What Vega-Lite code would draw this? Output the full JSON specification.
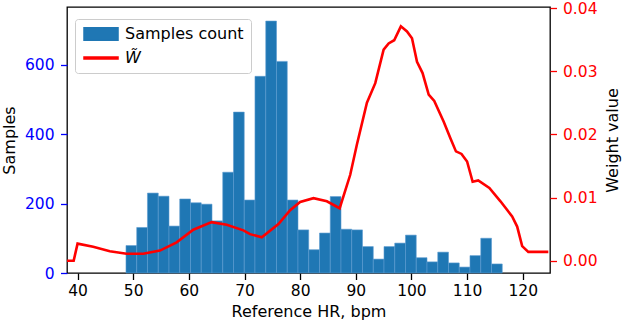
{
  "$schema": "https://vega.github.io/schema/vega-lite/v6.json",
  "width": 483,
  "height": 266,
  "autosize": "none",
  "padding": {"left": 67, "top": 7, "right": 72, "bottom": 51},
  "config": {
    "font": "DejaVu Sans",
    "view": {"stroke": "black", "strokeWidth": 1.3},
    "axis": {
      "labelFont": "DejaVu Sans",
      "titleFont": "DejaVu Sans",
      "labelFontSize": 15.5,
      "titleFontSize": 16,
      "titleFontWeight": "normal",
      "titleColor": "black",
      "labelColor": "black",
      "grid": false,
      "domain": false,
      "tickSize": 6.5,
      "tickWidth": 1.3,
      "tickColor": "black",
      "labelPadding": 3.5
    }
  },
  "resolve": {"scale": {"y": "independent"}},
  "layer": [
    {
      "data": {
        "values": [
          {"hr": 48.70, "hr_end": 50.63, "count": 79, "series": "Samples count"},
          {"hr": 50.63, "hr_end": 52.56, "count": 131, "series": "Samples count"},
          {"hr": 52.56, "hr_end": 54.50, "count": 230, "series": "Samples count"},
          {"hr": 54.50, "hr_end": 56.43, "count": 221, "series": "Samples count"},
          {"hr": 56.43, "hr_end": 58.36, "count": 135, "series": "Samples count"},
          {"hr": 58.36, "hr_end": 60.29, "count": 213, "series": "Samples count"},
          {"hr": 60.29, "hr_end": 62.22, "count": 202, "series": "Samples count"},
          {"hr": 62.22, "hr_end": 64.16, "count": 198, "series": "Samples count"},
          {"hr": 64.16, "hr_end": 66.09, "count": 150, "series": "Samples count"},
          {"hr": 66.09, "hr_end": 68.02, "count": 290, "series": "Samples count"},
          {"hr": 68.02, "hr_end": 69.95, "count": 463, "series": "Samples count"},
          {"hr": 69.95, "hr_end": 71.88, "count": 210, "series": "Samples count"},
          {"hr": 71.88, "hr_end": 73.82, "count": 566, "series": "Samples count"},
          {"hr": 73.82, "hr_end": 75.75, "count": 725, "series": "Samples count"},
          {"hr": 75.75, "hr_end": 77.68, "count": 609, "series": "Samples count"},
          {"hr": 77.68, "hr_end": 79.61, "count": 210, "series": "Samples count"},
          {"hr": 79.61, "hr_end": 81.54, "count": 124, "series": "Samples count"},
          {"hr": 81.54, "hr_end": 83.48, "count": 67, "series": "Samples count"},
          {"hr": 83.48, "hr_end": 85.41, "count": 115, "series": "Samples count"},
          {"hr": 85.41, "hr_end": 87.34, "count": 220, "series": "Samples count"},
          {"hr": 87.34, "hr_end": 89.27, "count": 126, "series": "Samples count"},
          {"hr": 89.27, "hr_end": 91.20, "count": 124, "series": "Samples count"},
          {"hr": 91.20, "hr_end": 93.14, "count": 76, "series": "Samples count"},
          {"hr": 93.14, "hr_end": 95.07, "count": 40, "series": "Samples count"},
          {"hr": 95.07, "hr_end": 97.00, "count": 76, "series": "Samples count"},
          {"hr": 97.00, "hr_end": 98.93, "count": 86, "series": "Samples count"},
          {"hr": 98.93, "hr_end": 100.86, "count": 109, "series": "Samples count"},
          {"hr": 100.86, "hr_end": 102.80, "count": 44, "series": "Samples count"},
          {"hr": 102.80, "hr_end": 104.73, "count": 32, "series": "Samples count"},
          {"hr": 104.73, "hr_end": 106.66, "count": 60, "series": "Samples count"},
          {"hr": 106.66, "hr_end": 108.59, "count": 29, "series": "Samples count"},
          {"hr": 108.59, "hr_end": 110.52, "count": 17, "series": "Samples count"},
          {"hr": 110.52, "hr_end": 112.46, "count": 50, "series": "Samples count"},
          {"hr": 112.46, "hr_end": 114.39, "count": 100, "series": "Samples count"},
          {"hr": 114.39, "hr_end": 116.32, "count": 26, "series": "Samples count"}
        ]
      },
      "mark": {"type": "rect", "stroke": "#5b9bd0", "strokeWidth": 0.6},
      "encoding": {
        "x": {
          "field": "hr",
          "type": "quantitative",
          "scale": {"domain": [38.1, 124.9], "nice": false, "zero": false},
          "axis": {"values": [40, 50, 60, 70, 80, 90, 100, 110, 120], "title": "Reference HR, bpm", "titlePadding": 5}
        },
        "x2": {"field": "hr_end"},
        "y": {
          "field": "count",
          "type": "quantitative",
          "scale": {"domain": [0, 765.5], "nice": false},
          "axis": {"orient": "left", "values": [0, 200, 400, 600], "title": "Samples", "labelColor": "#0000ff", "tickColor": "#0000ff", "labelPadding": 6.5, "titlePadding": 7}
        },
        "y2": {"datum": 0},
        "color": {
          "field": "series",
          "type": "nominal",
          "scale": {"domain": ["Samples count", "W̃"], "range": ["#1f77b4", "#ff0000"]},
          "legend": {
            "title": null,
            "orient": "none",
            "legendX": 8,
            "legendY": 12,
            "padding": 7,
            "fillColor": "rgba(255,255,255,0.8)",
            "strokeColor": "#cccccc",
            "cornerRadius": 3,
            "labelFont": "DejaVu Sans",
            "labelFontSize": 16,
            "labelColor": "black",
            "labelOffset": 27,
            "labelLimit": 300,
            "symbolSize": 144,
            "rowPadding": 6,
            "symbolOpacity": 1,
            "symbolType": {"expr": "datum.value === 'Samples count' ? 'M-1,-1.05H4.67V1.05H-1Z' : 'M-1,-0.18H4.67V0.18H-1Z'"},
            "labelFontStyle": {"expr": "datum.value === 'Samples count' ? 'normal' : 'italic'"}
          }
        }
      }
    },
    {
      "data": {
        "values": [
          {"hr": 38.1, "w": 0.0000, "series": "W̃"},
          {"hr": 39.3, "w": 0.0000, "series": "W̃"},
          {"hr": 40.0, "w": 0.0027, "series": "W̃"},
          {"hr": 42.8, "w": 0.0022, "series": "W̃"},
          {"hr": 45.8, "w": 0.0015, "series": "W̃"},
          {"hr": 48.8, "w": 0.0011, "series": "W̃"},
          {"hr": 51.8, "w": 0.0011, "series": "W̃"},
          {"hr": 54.8, "w": 0.0016, "series": "W̃"},
          {"hr": 57.8, "w": 0.0029, "series": "W̃"},
          {"hr": 60.8, "w": 0.0049, "series": "W̃"},
          {"hr": 64.1, "w": 0.0061, "series": "W̃"},
          {"hr": 66.8, "w": 0.0057, "series": "W̃"},
          {"hr": 69.8, "w": 0.0048, "series": "W̃"},
          {"hr": 71.0, "w": 0.0042, "series": "W̃"},
          {"hr": 73.1, "w": 0.0037, "series": "W̃"},
          {"hr": 76.1, "w": 0.0058, "series": "W̃"},
          {"hr": 78.2, "w": 0.0080, "series": "W̃"},
          {"hr": 80.0, "w": 0.0093, "series": "W̃"},
          {"hr": 82.4, "w": 0.0099, "series": "W̃"},
          {"hr": 84.8, "w": 0.0094, "series": "W̃"},
          {"hr": 87.1, "w": 0.0083, "series": "W̃"},
          {"hr": 89.0, "w": 0.0136, "series": "W̃"},
          {"hr": 90.2, "w": 0.0184, "series": "W̃"},
          {"hr": 92.0, "w": 0.0250, "series": "W̃"},
          {"hr": 93.5, "w": 0.0281, "series": "W̃"},
          {"hr": 95.0, "w": 0.0334, "series": "W̃"},
          {"hr": 95.9, "w": 0.0344, "series": "W̃"},
          {"hr": 96.9, "w": 0.0349, "series": "W̃"},
          {"hr": 98.1, "w": 0.0371, "series": "W̃"},
          {"hr": 99.2, "w": 0.0363, "series": "W̃"},
          {"hr": 100.1, "w": 0.0352, "series": "W̃"},
          {"hr": 101.0, "w": 0.0315, "series": "W̃"},
          {"hr": 102.0, "w": 0.0297, "series": "W̃"},
          {"hr": 103.1, "w": 0.0263, "series": "W̃"},
          {"hr": 104.1, "w": 0.0253, "series": "W̃"},
          {"hr": 105.8, "w": 0.0220, "series": "W̃"},
          {"hr": 107.0, "w": 0.0194, "series": "W̃"},
          {"hr": 108.0, "w": 0.0173, "series": "W̃"},
          {"hr": 109.0, "w": 0.0169, "series": "W̃"},
          {"hr": 110.0, "w": 0.0157, "series": "W̃"},
          {"hr": 111.0, "w": 0.0125, "series": "W̃"},
          {"hr": 112.0, "w": 0.0127, "series": "W̃"},
          {"hr": 114.0, "w": 0.0115, "series": "W̃"},
          {"hr": 116.0, "w": 0.0094, "series": "W̃"},
          {"hr": 118.1, "w": 0.0070, "series": "W̃"},
          {"hr": 119.0, "w": 0.0054, "series": "W̃"},
          {"hr": 119.9, "w": 0.0023, "series": "W̃"},
          {"hr": 121.0, "w": 0.0014, "series": "W̃"},
          {"hr": 124.6, "w": 0.0014, "series": "W̃"}
        ]
      },
      "mark": {"type": "line", "strokeWidth": 2.6},
      "encoding": {
        "x": {
          "field": "hr",
          "type": "quantitative",
          "axis": {"values": [40, 50, 60, 70, 80, 90, 100, 110, 120], "title": "Reference HR, bpm", "titlePadding": 5}
        },
        "y": {
          "field": "w",
          "type": "quantitative",
          "scale": {"domain": [-0.00195, 0.04016], "nice": false, "zero": false},
          "axis": {"orient": "right", "values": [0, 0.01, 0.02, 0.03, 0.04], "format": ".2f", "title": "Weight value", "titleAngle": 270, "titleBaseline": "top", "labelColor": "#ff0000", "tickColor": "#ff0000", "labelPadding": 6, "titlePadding": 7}
        },
        "color": {"field": "series", "type": "nominal"}
      }
    }
  ]
}
